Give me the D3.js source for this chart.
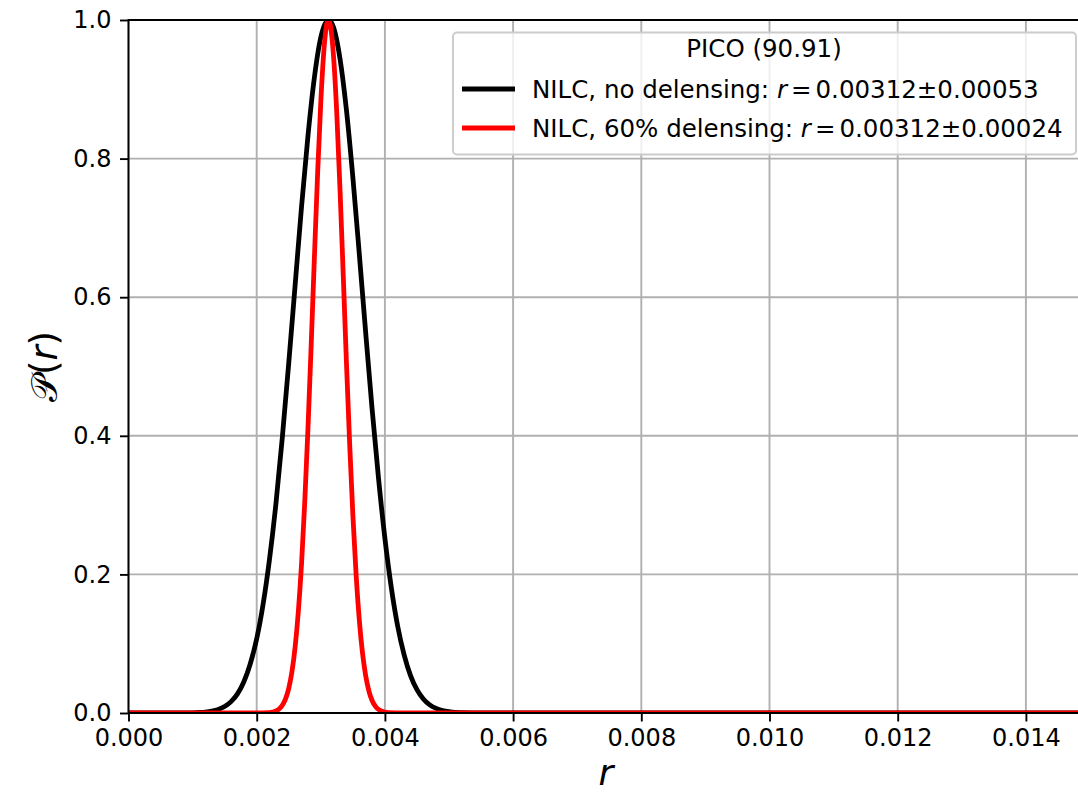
<!DOCTYPE html>
<html>
<head>
<meta charset="utf-8">
<script src="https://cdn.jsdelivr.net/npm/d3@7"></script>
<style>
  body { margin: 0; background: #fff; }
  svg { display: block; font-family: "DejaVu Sans", sans-serif; }
</style>
</head>
<body>
<svg id="chart" width="1078" height="796"></svg>
<script>
// values
const legendTitle = 'PICO (90.91)';
const seriesNames = ['NILC, no delensing: ', 'NILC, 60% delensing: '];
const seriesStats = ['0.00312\u00b10.00053', '0.00312\u00b10.00024'];
const seriesColors = ['#000000', '#ff0000'];

const xTicks = [0, 0.002, 0.004, 0.006, 0.008, 0.010, 0.012, 0.014];
const yTicks = [0, 0.2, 0.4, 0.6, 0.8, 1.0];

// no delensing (black)
const rBlack = [0, 0.0008, 0.0010, 0.0011, 0.0012, 0.0013, 0.0014, 0.0015, 0.0016, 0.0017,
  0.0018, 0.0019, 0.0020, 0.0021, 0.0022, 0.0023, 0.0024, 0.0025, 0.0026, 0.0027,
  0.0028, 0.0029, 0.0030, 0.0031, 0.00312, 0.0032, 0.0033, 0.0034, 0.0035, 0.0036,
  0.0037, 0.0038, 0.0039, 0.0040, 0.0041, 0.0042, 0.0043, 0.0044, 0.0045, 0.0046,
  0.0047, 0.0048, 0.0049, 0.0050, 0.0051, 0.0052, 0.0055, 0.0150];
const pBlack = [0, 0, 0.0003, 0.0007, 0.0014, 0.0028, 0.0052, 0.0094, 0.0164, 0.0276,
  0.045, 0.071, 0.107, 0.157, 0.222, 0.302, 0.398, 0.505, 0.618, 0.731,
  0.833, 0.917, 0.975, 0.999, 1.0, 0.989, 0.944, 0.870, 0.773, 0.663,
  0.549, 0.439, 0.339, 0.252, 0.181, 0.125, 0.084, 0.054, 0.0337, 0.0203,
  0.0118, 0.0066, 0.0036, 0.0019, 0.0009, 0.0005, 0, 0];

// 60% delensing (red)
const rRed = [0, 0.0020, 0.00220, 0.00225, 0.00230, 0.00235, 0.00240, 0.00245, 0.00250, 0.00255,
  0.00260, 0.00265, 0.00270, 0.00275, 0.00280, 0.00285, 0.00290, 0.00295, 0.00300, 0.00305,
  0.00310, 0.00312, 0.00315, 0.00320, 0.00325, 0.00330, 0.00335, 0.00340, 0.00345, 0.00350,
  0.00355, 0.00360, 0.00365, 0.00370, 0.00375, 0.00380, 0.00385, 0.00390, 0.00395, 0.00400,
  0.00405, 0.0043, 0.0150];
const pRed = [0, 0, 0.0006, 0.0014, 0.0029, 0.0058, 0.0111, 0.0203, 0.0355, 0.0596,
  0.0956, 0.147, 0.216, 0.305, 0.411, 0.531, 0.657, 0.778, 0.882, 0.958,
  0.997, 1.0, 0.992, 0.946, 0.864, 0.755, 0.632, 0.506, 0.389, 0.286,
  0.201, 0.135, 0.087, 0.054, 0.032, 0.018, 0.0098, 0.0051, 0.0025, 0.0012,
  0.0005, 0, 0];

const svg = d3.select('#chart');
const plotLeft = 128.5, plotRight = 1090, plotTop = 20, plotBottom = 713;

const x = d3.scaleLinear().domain([0, 0.015]).range([plotLeft, plotRight]);
const y = d3.scaleLinear().domain([0, 1]).range([plotBottom, plotTop]);

svg.append('defs').append('clipPath').attr('id', 'plot-clip')
  .append('rect')
  .attr('x', plotLeft).attr('y', plotTop)
  .attr('width', plotRight - plotLeft).attr('height', plotBottom - plotTop);

// grid
const grid = svg.append('g').attr('class', 'grid');
grid.selectAll('line.gx').data(xTicks).enter().append('line')
  .attr('x1', (d) => x(d)).attr('x2', (d) => x(d))
  .attr('y1', plotTop).attr('y2', plotBottom)
  .attr('stroke', '#b0b0b0').attr('stroke-width', 1.9);
grid.selectAll('line.gy').data(yTicks).enter().append('line')
  .attr('x1', plotLeft).attr('x2', plotRight)
  .attr('y1', (d) => y(d)).attr('y2', (d) => y(d))
  .attr('stroke', '#b0b0b0').attr('stroke-width', 1.9);

// curves
const line = d3.line().x((d) => x(d[0])).y((d) => y(d[1])).curve(d3.curveMonotoneX);
const series = [d3.zip(rBlack, pBlack), d3.zip(rRed, pRed)];
svg.append('g').attr('clip-path', 'url(#plot-clip)')
  .selectAll('path').data(series).enter().append('path')
  .attr('d', line)
  .attr('fill', 'none')
  .attr('stroke', (d, i) => seriesColors[i])
  .attr('stroke-width', 4.8)
  .attr('stroke-linejoin', 'round');

// axes
const xAxis = d3.axisBottom(x).tickValues(xTicks).tickFormat(d3.format('.3f'))
  .tickSize(8.5).tickPadding(7);
const yAxis = d3.axisLeft(y).tickValues(yTicks).tickFormat(d3.format('.1f'))
  .tickSize(8.5).tickPadding(8.5);

const gx = svg.append('g').attr('transform', `translate(0,${plotBottom})`).call(xAxis);
const gy = svg.append('g').attr('transform', `translate(${plotLeft},0)`).call(yAxis);
[gx, gy].forEach((g) => {
  g.select('.domain').remove();
  g.selectAll('line').attr('stroke', '#000').attr('stroke-width', 1.9);
  g.selectAll('text').attr('fill', '#000').attr('font-size', 24)
    .attr('font-family', '"DejaVu Sans", sans-serif');
});

// spines (left, bottom, top)
svg.append('line').attr('x1', plotLeft).attr('x2', plotLeft)
  .attr('y1', plotTop - 0.95).attr('y2', plotBottom + 0.95)
  .attr('stroke', '#000').attr('stroke-width', 1.9);
svg.append('line').attr('x1', plotLeft).attr('x2', plotRight)
  .attr('y1', plotBottom).attr('y2', plotBottom)
  .attr('stroke', '#000').attr('stroke-width', 1.9);
svg.append('line').attr('x1', plotLeft).attr('x2', plotRight)
  .attr('y1', plotTop).attr('y2', plotTop)
  .attr('stroke', '#000').attr('stroke-width', 1.9);

// axis labels
svg.append('text')
  .attr('x', 606).attr('y', 785)
  .attr('text-anchor', 'middle').attr('font-size', 36).attr('font-style', 'italic')
  .text('r');

const yl = svg.append('text')
  .attr('transform', `translate(57,${(plotTop + plotBottom) / 2}) rotate(-90)`)
  .attr('text-anchor', 'middle').attr('font-size', 37);
yl.append('tspan').text('\ud835\udcab(');
yl.append('tspan').attr('font-style', 'italic').text('r');
yl.append('tspan').text(')');

// legend
const lg = svg.append('g');
lg.append('rect')
  .attr('x', 453).attr('y', 32.5).attr('width', 623).attr('height', 122)
  .attr('rx', 4).attr('ry', 4)
  .attr('fill', '#fff').attr('fill-opacity', 0.8)
  .attr('stroke', '#cccccc').attr('stroke-width', 1.9);
lg.append('text')
  .attr('x', 764).attr('y', 57).attr('text-anchor', 'middle').attr('font-size', 24.5)
  .text(legendTitle);
seriesNames.forEach((name, i) => {
  const cy = 89 + i * 39;
  lg.append('line')
    .attr('x1', 462).attr('x2', 515).attr('y1', cy).attr('y2', cy)
    .attr('stroke', seriesColors[i]).attr('stroke-width', 4.8);
  const t = lg.append('text').attr('x', 532).attr('y', cy + 9).attr('font-size', 24.5);
  t.append('tspan').text(name);
  t.append('tspan').attr('font-style', 'italic').text('r');
  t.append('tspan').attr('dx', 4).text('=');
  t.append('tspan').attr('dx', 4).text(seriesStats[i]);
});
</script>
</body>
</html>
